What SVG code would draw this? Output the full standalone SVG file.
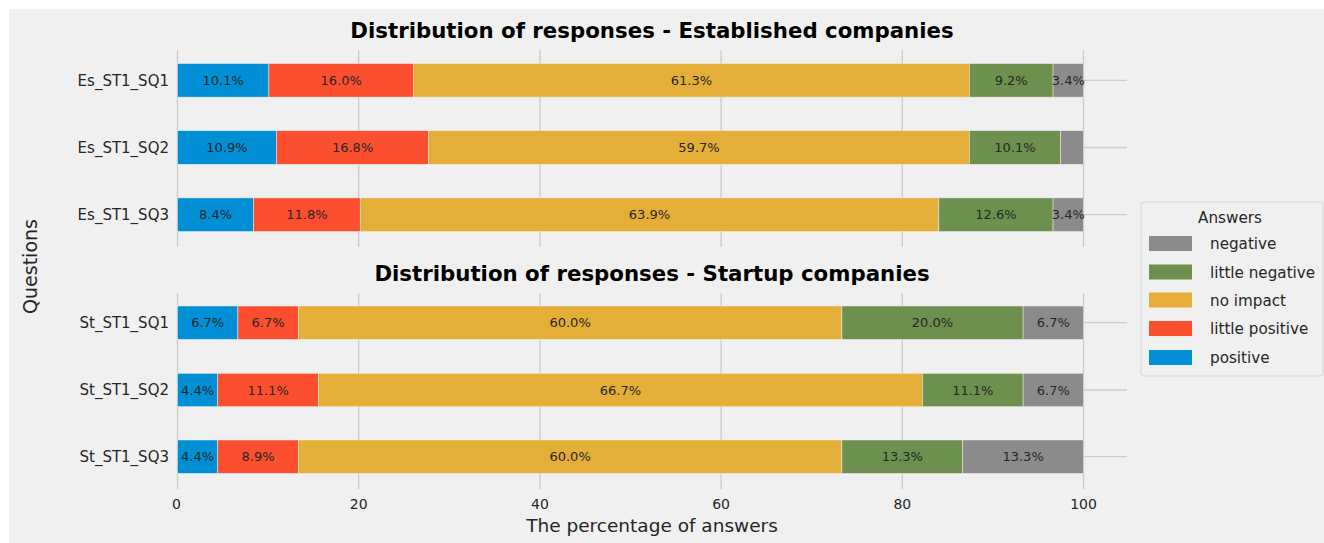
<svg xmlns="http://www.w3.org/2000/svg" width="1324" height="543" viewBox="0 0 1324 543">
<style>
text{font-family:"DejaVu Sans","Liberation Sans",sans-serif;fill:#262626}
.grid{stroke:#cbcbcb;stroke-width:1.3;fill:none}
.pos{fill:#008fd5}.lpos{fill:#fc4f30}.noi{fill:#e5ae38}.lneg{fill:#6d904f}.neg{fill:#8b8b8b}
.bar rect{stroke:#f0f0f0;stroke-width:0.5}
.bl{font-size:13px;text-anchor:middle}
.yt{font-size:15px;text-anchor:end}
.xt{font-size:14px;text-anchor:middle}
.ttl{font-size:21.3px;font-weight:bold;text-anchor:middle;fill:#000}
.lg{font-size:15.2px}
</style>
<rect x="0" y="0" width="1324" height="543" fill="#ffffff"/>
<rect x="9" y="9" width="1315" height="534" fill="#f0f0f0"/>

<g id="gridlines">
<line class="grid" x1="177.5" y1="50" x2="177.5" y2="247"/>
<line class="grid" x1="358.7" y1="50" x2="358.7" y2="247"/>
<line class="grid" x1="539.9" y1="50" x2="539.9" y2="247"/>
<line class="grid" x1="721.1" y1="50" x2="721.1" y2="247"/>
<line class="grid" x1="902.3" y1="50" x2="902.3" y2="247"/>
<line class="grid" x1="1083.5" y1="50" x2="1083.5" y2="247"/>
<line class="grid" x1="177.5" y1="80.3" x2="1127" y2="80.3"/>
<line class="grid" x1="177.5" y1="147.5" x2="1127" y2="147.5"/>
<line class="grid" x1="177.5" y1="214.7" x2="1127" y2="214.7"/>
<line class="grid" x1="177.5" y1="293" x2="177.5" y2="489"/>
<line class="grid" x1="358.7" y1="293" x2="358.7" y2="489"/>
<line class="grid" x1="539.9" y1="293" x2="539.9" y2="489"/>
<line class="grid" x1="721.1" y1="293" x2="721.1" y2="489"/>
<line class="grid" x1="902.3" y1="293" x2="902.3" y2="489"/>
<line class="grid" x1="1083.5" y1="293" x2="1083.5" y2="489"/>
<line class="grid" x1="177.5" y1="322.7" x2="1127" y2="322.7"/>
<line class="grid" x1="177.5" y1="390" x2="1127" y2="390"/>
<line class="grid" x1="177.5" y1="456.7" x2="1127" y2="456.7"/>
</g>

<text class="ttl" x="652" y="37.5">Distribution of responses - Established companies</text>
<text class="ttl" x="652" y="280.5">Distribution of responses - Startup companies</text>

<g id="es_sq1" class="bar">
<rect class="pos" x="177.5" y="63.5" width="91.36" height="33.6"/>
<rect class="lpos" x="268.86" y="63.5" width="144.65" height="33.6"/>
<rect class="noi" x="413.51" y="63.5" width="555.79" height="33.6"/>
<rect class="lneg" x="969.3" y="63.5" width="83.75" height="33.6"/>
<rect class="neg" x="1053.05" y="63.5" width="30.45" height="33.6"/>
<text class="yt" x="169" y="85.6">Es_ST1_SQ1</text>
<text class="bl" x="223.2" y="84.9">10.1%</text>
<text class="bl" x="341.2" y="84.9">16.0%</text>
<text class="bl" x="691.4" y="84.9">61.3%</text>
<text class="bl" x="1011.2" y="84.9">9.2%</text>
<text class="bl" x="1068.3" y="84.9">3.4%</text>
</g>

<g id="es_sq2" class="bar">
<rect class="pos" x="177.5" y="130.7" width="98.97" height="33.6"/>
<rect class="lpos" x="276.47" y="130.7" width="152.27" height="33.6"/>
<rect class="noi" x="428.74" y="130.7" width="540.56" height="33.6"/>
<rect class="lneg" x="969.3" y="130.7" width="91.36" height="33.6"/>
<rect class="neg" x="1060.66" y="130.7" width="22.84" height="33.6"/>
<text class="yt" x="169" y="152.8">Es_ST1_SQ2</text>
<text class="bl" x="227" y="152.1">10.9%</text>
<text class="bl" x="352.6" y="152.1">16.8%</text>
<text class="bl" x="699" y="152.1">59.7%</text>
<text class="bl" x="1015" y="152.1">10.1%</text>
</g>

<g id="es_sq3" class="bar">
<rect class="pos" x="177.5" y="197.9" width="76.13" height="33.6"/>
<rect class="lpos" x="253.63" y="197.9" width="106.59" height="33.6"/>
<rect class="noi" x="360.22" y="197.9" width="578.63" height="33.6"/>
<rect class="lneg" x="938.85" y="197.9" width="114.2" height="33.6"/>
<rect class="neg" x="1053.05" y="197.9" width="30.45" height="33.6"/>
<text class="yt" x="169" y="220">Es_ST1_SQ3</text>
<text class="bl" x="215.6" y="219.3">8.4%</text>
<text class="bl" x="306.9" y="219.3">11.8%</text>
<text class="bl" x="649.5" y="219.3">63.9%</text>
<text class="bl" x="996" y="219.3">12.6%</text>
<text class="bl" x="1068.3" y="219.3">3.4%</text>
</g>

<g id="st_sq1" class="bar">
<rect class="pos" x="177.5" y="306" width="60.4" height="33.4"/>
<rect class="lpos" x="237.9" y="306" width="60.4" height="33.4"/>
<rect class="noi" x="298.3" y="306" width="543.6" height="33.4"/>
<rect class="lneg" x="841.9" y="306" width="181.2" height="33.4"/>
<rect class="neg" x="1023.1" y="306" width="60.4" height="33.4"/>
<text class="yt" x="169" y="328">St_ST1_SQ1</text>
<text class="bl" x="207.7" y="327.3">6.7%</text>
<text class="bl" x="268.1" y="327.3">6.7%</text>
<text class="bl" x="570.1" y="327.3">60.0%</text>
<text class="bl" x="932.5" y="327.3">20.0%</text>
<text class="bl" x="1053.3" y="327.3">6.7%</text>
</g>

<g id="st_sq2" class="bar">
<rect class="pos" x="177.5" y="373.3" width="40.27" height="33.4"/>
<rect class="lpos" x="217.77" y="373.3" width="100.66" height="33.4"/>
<rect class="noi" x="318.43" y="373.3" width="604" height="33.4"/>
<rect class="lneg" x="922.43" y="373.3" width="100.67" height="33.4"/>
<rect class="neg" x="1023.1" y="373.3" width="60.4" height="33.4"/>
<text class="yt" x="169" y="395.3">St_ST1_SQ2</text>
<text class="bl" x="197.6" y="394.6">4.4%</text>
<text class="bl" x="268.1" y="394.6">11.1%</text>
<text class="bl" x="620.4" y="394.6">66.7%</text>
<text class="bl" x="972.8" y="394.6">11.1%</text>
<text class="bl" x="1053.3" y="394.6">6.7%</text>
</g>

<g id="st_sq3" class="bar">
<rect class="pos" x="177.5" y="440" width="40.27" height="33.4"/>
<rect class="lpos" x="217.77" y="440" width="80.53" height="33.4"/>
<rect class="noi" x="298.3" y="440" width="543.6" height="33.4"/>
<rect class="lneg" x="841.9" y="440" width="120.8" height="33.4"/>
<rect class="neg" x="962.7" y="440" width="120.8" height="33.4"/>
<text class="yt" x="169" y="462">St_ST1_SQ3</text>
<text class="bl" x="197.6" y="461.3">4.4%</text>
<text class="bl" x="258" y="461.3">8.9%</text>
<text class="bl" x="570.1" y="461.3">60.0%</text>
<text class="bl" x="902.3" y="461.3">13.3%</text>
<text class="bl" x="1023.1" y="461.3">13.3%</text>
</g>

<g id="x_axis">
<text class="xt" x="176.5" y="508.5">0</text>
<text class="xt" x="358.7" y="508.5">20</text>
<text class="xt" x="539.9" y="508.5">40</text>
<text class="xt" x="721.1" y="508.5">60</text>
<text class="xt" x="902.3" y="508.5">80</text>
<text class="xt" x="1083.5" y="508.5">100</text>
<text x="652" y="532" style="font-size:18.5px;text-anchor:middle">The percentage of answers</text>
</g>

<g id="y_axis_label">
<text transform="translate(36.5 266.5) rotate(-90)" style="font-size:19px;text-anchor:middle">Questions</text>
</g>

<g id="legend">
<rect x="1141" y="202" width="182" height="174" rx="3" ry="3" fill="#f0f0f0" stroke="#d6d6d6" stroke-width="1"/>
<text class="lg" x="1230" y="222.5" text-anchor="middle">Answers</text>
<rect class="neg" x="1149" y="236" width="43" height="15"/>
<text class="lg" x="1210" y="249">negative</text>
<rect class="lneg" x="1149" y="264.5" width="43" height="15"/>
<text class="lg" x="1210" y="277.5">little negative</text>
<rect class="noi" x="1149" y="292.5" width="43" height="15"/>
<text class="lg" x="1210" y="305.5">no impact</text>
<rect class="lpos" x="1149" y="321" width="43" height="15"/>
<text class="lg" x="1210" y="334">little positive</text>
<rect class="pos" x="1149" y="350" width="43" height="15"/>
<text class="lg" x="1210" y="363">positive</text>
</g>
</svg>
